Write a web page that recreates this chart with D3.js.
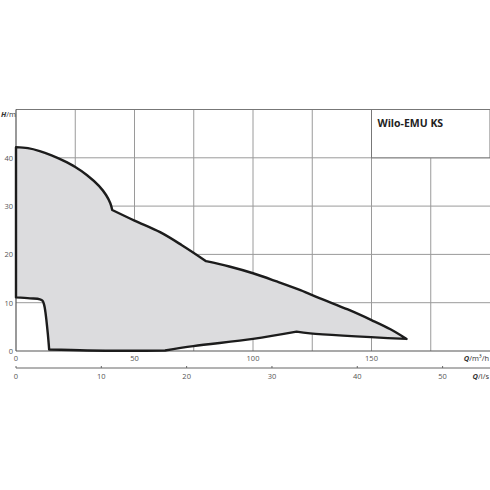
<!DOCTYPE html>
<html><head><meta charset="utf-8">
<script src="https://cdn.jsdelivr.net/npm/d3@7"></script>
<style>body{margin:0;background:#fff}</style>
</head><body>
<svg id="c" width="490" height="490"></svg>
<script>
// Data
const title = "Wilo-EMU KS";
const xTicksM3h = [0, 50, 100, 150];
const xGridM3h = [25, 50, 75, 100, 125, 150, 175];
const yTicks = [0, 10, 20, 30, 40];
const xTicksLs = [0, 10, 20, 30, 40, 50];
// Boundary segments (Q m³/h, H m); knees are shared end points
const seg1Q = [0, 5, 10, 15, 20, 25, 30, 35, 38, 39.8, 40.6];
const seg1H = [42.2, 42.0, 41.4, 40.5, 39.4, 38.1, 36.4, 34.2, 32.3, 30.6, 29.2];
const seg2Q = [40.6, 50, 60.8, 70, 80.2];
const seg2H = [29.2, 27.0, 24.6, 21.9, 18.6];
const seg3Q = [80.2, 90, 100, 110, 120, 128.3, 140, 150, 158, 164.8];
const seg3H = [18.6, 17.5, 16.1, 14.4, 12.6, 10.9, 8.6, 6.4, 4.5, 2.5];
const seg4Q = [164.8, 124.1, 118.4];
const seg4H = [2.5, 3.66, 4.0];
const seg5Q = [118.4, 100, 74.8, 62.9];
const seg5H = [4.0, 2.5, 1.0, 0.1];
const seg6Q = [62.9, 50, 30, 14.0];
const seg6H = [0.1, 0.05, 0.1, 0.3];
const seg7Q = [14.0, 13.4, 12.4, 11.9, 11.2, 10.1, 5.9, 0];
const seg7H = [0.3, 3.7, 8.1, 9.5, 10.4, 10.7, 10.9, 11.1];

const svg = d3.select("#c");
const L = 16, R = 490, T = 109.5, B = 351;
const x = d3.scaleLinear().domain([0, 200]).range([L, R]);
const y = d3.scaleLinear().domain([0, 50]).range([B, T]);
const xLs = d3.scaleLinear().domain([0, 200 / 3.6]).range([L, R]);
const font = "'Open Sans', sans-serif";
const grid = "#9a9a9a";

// gridlines
const g = svg.append("g");
g.selectAll("line.v").data(xGridM3h).join("line")
  .attr("x1", d => x(d)).attr("x2", d => x(d)).attr("y1", T).attr("y2", B)
  .attr("stroke", grid).attr("stroke-width", 1);
g.selectAll("line.h").data([10, 20, 30, 40]).join("line")
  .attr("x1", L).attr("x2", R).attr("y1", d => y(d)).attr("y2", d => y(d))
  .attr("stroke", grid).attr("stroke-width", 1);
// frame
g.append("line").attr("x1", L).attr("x2", R).attr("y1", T).attr("y2", T).attr("stroke", "#777").attr("stroke-width", 1);
g.append("line").attr("x1", L).attr("x2", R).attr("y1", B).attr("y2", B).attr("stroke", "#555").attr("stroke-width", 1.2);
g.append("line").attr("x1", L).attr("x2", L).attr("y1", T).attr("y2", B).attr("stroke", "#555").attr("stroke-width", 1.2);

// title box
svg.append("rect").attr("x", x(150)).attr("y", T).attr("width", R - x(150)).attr("height", y(40) - T)
  .attr("fill", "#fff").attr("stroke", "#777").attr("stroke-width", 1);
svg.append("text").attr("x", x(150) + 6).attr("y", T + 17).text(title)
  .attr("font-family", font).attr("font-weight", "bold").attr("font-size", 10.5).attr("fill", "#222");

// area polygon built from smooth segments joined at sharp knees
const segs = [[seg1Q, seg1H], [seg2Q, seg2H], [seg3Q, seg3H], [seg4Q, seg4H], [seg5Q, seg5H], [seg6Q, seg6H], [seg7Q, seg7H]];
const line = d3.line().x(d => x(d[0])).y(d => y(d[1])).curve(d3.curveCatmullRom.alpha(0.5));
let dStr = "";
segs.forEach(([qs, hs], i) => {
  const s = line(qs.map((q, j) => [q, hs[j]]));
  dStr += i === 0 ? s : "L" + s.slice(1);
});
svg.append("path").attr("d", dStr + "Z")
  .attr("fill", "#dcdcde")
  .attr("stroke", "#1c1c1c").attr("stroke-width", 2.4).attr("stroke-linejoin", "round");

// y tick labels
svg.selectAll("text.yt").data(yTicks).join("text")
  .attr("x", 13).attr("y", d => y(d) + 3).attr("text-anchor", "end").text(d => d)
  .attr("font-family", font).attr("font-size", 7.5).attr("fill", "#555");
// H/m label
const hl = svg.append("text").attr("x", 1).attr("y", 117).attr("font-family", font).attr("font-size", 7.5).attr("fill", "#333");
hl.append("tspan").text("H").attr("font-weight", "bold").attr("font-style", "italic");
hl.append("tspan").text("/m");

// x m³/h tick labels
svg.selectAll("text.xt").data(xTicksM3h).join("text")
  .attr("x", d => x(d)).attr("y", 361).attr("text-anchor", "middle").text(d => d)
  .attr("font-family", font).attr("font-size", 7.5).attr("fill", "#555");
const ql = svg.append("text").attr("x", 489).attr("y", 361).attr("text-anchor", "end").attr("font-family", font).attr("font-size", 7.5).attr("fill", "#333");
ql.append("tspan").text("Q").attr("font-weight", "bold").attr("font-style", "italic");
ql.append("tspan").text("/m³/h");

// l/s axis
svg.append("line").attr("x1", L).attr("x2", R).attr("y1", 368).attr("y2", 368).attr("stroke", "#666").attr("stroke-width", 1);
svg.selectAll("line.lt").data(xTicksLs).join("line")
  .attr("x1", d => xLs(d)).attr("x2", d => xLs(d)).attr("y1", 366).attr("y2", 368)
  .attr("stroke", "#666").attr("stroke-width", 1);
svg.selectAll("text.lt").data(xTicksLs).join("text")
  .attr("x", d => xLs(d)).attr("y", 379).attr("text-anchor", "middle").text(d => d)
  .attr("font-family", font).attr("font-size", 7.5).attr("fill", "#555");
const qs = svg.append("text").attr("x", 489).attr("y", 379).attr("text-anchor", "end").attr("font-family", font).attr("font-size", 7.5).attr("fill", "#333");
qs.append("tspan").text("Q").attr("font-weight", "bold").attr("font-style", "italic");
qs.append("tspan").text("/l/s");
</script>
</body></html>
